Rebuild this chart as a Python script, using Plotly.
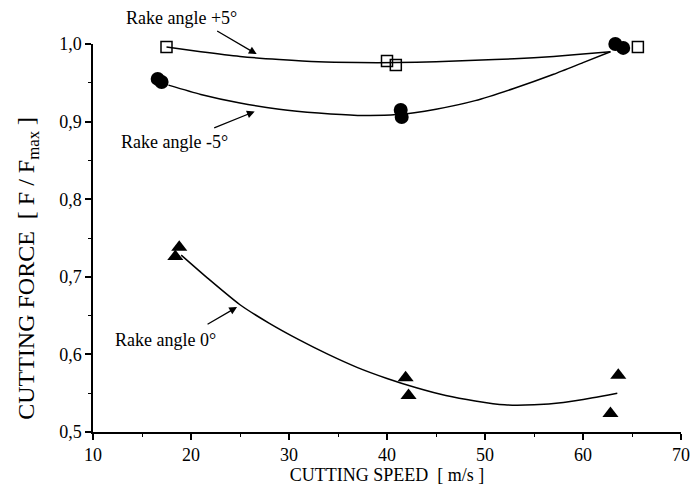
import plotly.graph_objects as go

# Measured points
plus5_x = [17.5, 40.0, 40.9, 65.6]
plus5_y = [0.996, 0.978, 0.973, 0.996]
minus5_x = [16.6, 17.0, 41.4, 41.5, 63.3, 64.1]
minus5_y = [0.955, 0.951, 0.915, 0.906, 1.000, 0.995]
zero_x = [18.8, 18.4, 41.9, 42.2, 63.6, 62.8]
zero_y = [0.738, 0.726, 0.570, 0.547, 0.573, 0.524]

# Trend curves
plus5_fit_x = [17.5, 21, 25, 29, 33, 37, 41, 45, 49, 53, 57, 60, 62.8]
plus5_fit_y = [0.996, 0.990, 0.984, 0.980, 0.977, 0.976, 0.976, 0.977, 0.979, 0.981, 0.984, 0.987, 0.990]
minus5_fit_x = [17.7, 21, 25, 29, 33, 37, 41, 45, 49, 53, 57, 60, 62.8]
minus5_fit_y = [0.947, 0.935, 0.924, 0.916, 0.911, 0.908, 0.909, 0.916, 0.927, 0.943, 0.961, 0.976, 0.990]
zero_fit_x = [19, 22, 25, 28, 31, 34, 37, 40, 43, 46, 49, 52, 55, 58, 61, 63.5]
zero_fit_y = [0.728, 0.695, 0.664, 0.640, 0.619, 0.600, 0.583, 0.569, 0.557, 0.547, 0.540, 0.535, 0.535, 0.538, 0.544, 0.550]

labels = ["Rake angle +5°", "Rake angle -5°", "Rake angle 0°"]
label_px = [0.151, 0.139, 0.124]   # paper coords
label_py = [1.067, 0.747, 0.237]
arrow_x = [26.7, 26.5, 24.7]
arrow_y = [0.987, 0.913, 0.661]
arrow_ax = [-41, -42, -31]
arrow_ay = [-24, 17, 18]

FONT = "Liberation Serif"
fig = go.Figure()
line = dict(color="black", width=1.5, shape="spline", smoothing=0.6)
for fx, fy in [(plus5_fit_x, plus5_fit_y), (minus5_fit_x, minus5_fit_y), (zero_fit_x, zero_fit_y)]:
    fig.add_trace(go.Scatter(x=fx, y=fy, mode="lines", line=line, showlegend=False, hoverinfo="skip"))

fig.add_trace(go.Scatter(x=plus5_x, y=plus5_y, mode="markers", showlegend=False, cliponaxis=False,
                         marker=dict(symbol="square-open", size=11, color="black", line=dict(width=1.5))))
fig.add_trace(go.Scatter(x=minus5_x, y=minus5_y, mode="markers", showlegend=False, cliponaxis=False,
                         marker=dict(symbol="circle", size=14, color="black")))
fig.add_trace(go.Scatter(x=zero_x, y=zero_y, mode="markers", showlegend=False, cliponaxis=False,
                         marker=dict(symbol="triangle-up", size=14, color="black")))

for t, lx, ly in zip(labels, label_px, label_py):
    fig.add_annotation(x=lx, y=ly, xref="paper", yref="paper", text=t, showarrow=False,
                       xanchor="center", yanchor="middle",
                       font=dict(family=FONT, size=18, color="black"))
for hx, hy, ax, ay in zip(arrow_x, arrow_y, arrow_ax, arrow_ay):
    fig.add_annotation(x=hx, y=hy, text="", showarrow=True, ax=ax, ay=ay,
                       arrowhead=2, arrowsize=1.2, arrowwidth=1.3, arrowcolor="black")

# y-axis title (placed as rotated text, slightly below plot centre as in the reference)
fig.add_annotation(x=-0.1106, y=0.423, xref="paper", yref="paper",
                   text="CUTTING FORCE  [ F / F<sub>max</sub> ]", textangle=-90, showarrow=False,
                   xanchor="center", yanchor="middle",
                   font=dict(family=FONT, size=24, color="black"))

axis_common = dict(showgrid=False, zeroline=False, showline=True, linecolor="black", linewidth=1.5,
                   ticks="outside", ticklen=6, tickwidth=1.5, tickcolor="black",
                   tickfont=dict(family=FONT, size=18, color="black"),
                   mirror=False)
fig.update_xaxes(range=[10, 70], dtick=10, tick0=10,
                 title=dict(text="CUTTING SPEED  [ m/s ]", font=dict(family=FONT, size=18, color="black"), standoff=4),
                 minor=dict(dtick=5, ticks="outside", ticklen=3, tickcolor="black", tickwidth=1.2),
                 **axis_common)
fig.update_yaxes(range=[0.5, 1.0], dtick=0.1, tick0=0.5, tickformat=".1f",
                 minor=dict(dtick=0.05, ticks="outside", ticklen=3, tickcolor="black", tickwidth=1.2),
                 **axis_common)
fig.update_layout(width=700, height=492, margin=dict(l=93, r=10, t=44, b=60),
                  plot_bgcolor="white", paper_bgcolor="white", separators=",.",
                  font=dict(family=FONT, color="black"))
fig.write_html("out.html")
